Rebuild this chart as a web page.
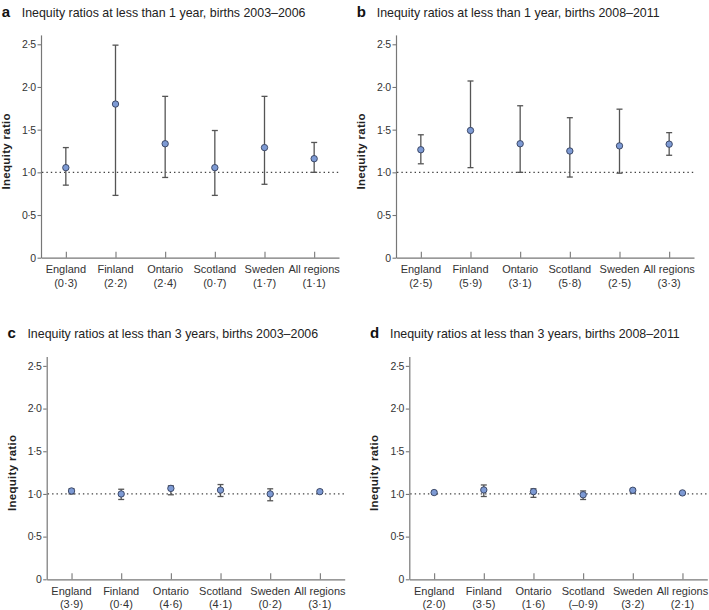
<!DOCTYPE html>
<html>
<head>
<meta charset="utf-8">
<script src="https://cdn.jsdelivr.net/npm/d3@7"></script>
<style>
  body { margin: 0; background: #fff; }
  svg { font-family: 'Liberation Sans', Arial, sans-serif; }
</style>
</head>
<body>
<div id="chart"></div>
<script>
const regions = ['England', 'Finland', 'Ontario', 'Scotland', 'Sweden', 'All regions']
const yTicks = [0, 0.5, 1, 1.5, 2, 2.5]

const panelLetters = ['a', 'b', 'c', 'd']
const panelTitles = [
  'Inequity ratios at less than 1 year, births 2003–2006',
  'Inequity ratios at less than 1 year, births 2008–2011',
  'Inequity ratios at less than 3 years, births 2003–2006',
  'Inequity ratios at less than 3 years, births 2008–2011'
]

// numbers in brackets under each region
const slopeA = ['0·3', '2·2', '2·4', '0·7', '1·7', '1·1']
const slopeB = ['2·5', '5·9', '3·1', '5·8', '2·5', '3·3']
const slopeC = ['3·9', '0·4', '4·6', '4·1', '0·2', '3·1']
const slopeD = ['2·0', '3·5', '1·6', '–0·9', '3·2', '2·1']

// ratio, lower and upper limits
const ratioA = [1.055, 1.8, 1.335, 1.055, 1.29, 1.16]
const lowerA = [0.85, 0.73, 0.94, 0.73, 0.86, 1.0]
const upperA = [1.29, 2.49, 1.89, 1.49, 1.89, 1.35]

const ratioB = [1.265, 1.49, 1.335, 1.25, 1.31, 1.33]
const lowerB = [1.1, 1.055, 1.0, 0.945, 0.99, 1.2]
const upperB = [1.44, 2.07, 1.78, 1.64, 1.74, 1.465]

const ratioC = [1.035, 1.0, 1.065, 1.045, 1.0, 1.027]
const lowerC = [1.0, 0.935, 0.99, 0.97, 0.92, 1.01]
const upperC = [1.06, 1.055, 1.095, 1.11, 1.06, 1.045]

const ratioD = [1.016, 1.047, 1.027, 0.99, 1.043, 1.012]
const lowerD = [1.0, 0.97, 0.96, 0.935, 1.01, 1.0]
const upperD = [1.03, 1.105, 1.06, 1.035, 1.06, 1.02]

const slopes = [slopeA, slopeB, slopeC, slopeD]
const ratios = [ratioA, ratioB, ratioC, ratioD]
const lowers = [lowerA, lowerB, lowerC, lowerD]
const uppers = [upperA, upperB, upperC, upperD]

// where each panel's axes meet
const origins = [[41, 257.7], [396, 257.7], [46.7, 579.3], [409.3, 579.3]]

const width = 298
const height = 222.8

const svg = d3
  .select('#chart')
  .append('svg')
  .attr('width', 709)
  .attr('height', 610)

const x = d3
  .scalePoint()
  .domain(regions)
  .range([0, width])
  .padding(0.5)

const y = d3
  .scaleLinear()
  .domain([0, 2.61])
  .range([height, 0])

const fmt = d => (d === 0 ? '0' : d.toFixed(1).replace('.', '·'))

panelLetters.forEach((letter, i) => {
  const [ox, oy] = origins[i]
  const g = svg
    .append('g')
    .attr('transform', `translate(${ox},${oy - height})`)

  const points = regions.map((r, j) => ({
    region: r,
    ratio: ratios[i][j],
    lower: lowers[i][j],
    upper: uppers[i][j],
    slope: slopes[i][j]
  }))

  // title
  g.append('text')
    .attr('x', -39.3)
    .attr('y', height - 241)
    .attr('font-size', 15)
    .attr('font-weight', 'bold')
    .attr('fill', '#111')
    .text(letter)

  g.append('text')
    .attr('x', -19.3)
    .attr('y', height - 241)
    .attr('font-size', 12.4)
    .attr('fill', '#222')
    .text(panelTitles[i])

  // y axis
  const yAxis = g
    .append('g')
    .attr('class', 'y-axis')
    .call(
      d3
        .axisLeft(y)
        .tickValues(yTicks)
        .tickSize(3.5)
        .tickSizeOuter(0)
        .tickPadding(2)
        .tickFormat(fmt)
    )
  yAxis.select('.domain').attr('stroke', '#777').attr('stroke-width', 1.2)
  yAxis.selectAll('.tick line').attr('stroke', '#777').attr('stroke-width', 1.1)
  yAxis
    .selectAll('.tick text')
    .attr('font-size', 10.5)
    .attr('letter-spacing', -0.6)
    .attr('fill', '#333')
    .attr('font-family', "'Liberation Sans', Arial, sans-serif")

  g.append('text')
    .attr('transform', `translate(-31,${(height - 10) / 2 + 10}) rotate(-90)`)
    .attr('text-anchor', 'middle')
    .attr('font-size', 11.5)
    .attr('font-weight', 'bold')
    .attr('letter-spacing', 0.3)
    .attr('fill', '#222')
    .text('Inequity ratio')

  // x axis
  const xAxis = g
    .append('g')
    .attr('class', 'x-axis')
    .attr('transform', `translate(0,${height})`)
    .call(
      d3
        .axisBottom(x)
        .tickSizeInner(-6)
        .tickSizeOuter(0)
        .tickFormat('')
    )
  xAxis.select('.domain').attr('stroke', '#777').attr('stroke-width', 1.2)
  xAxis.selectAll('.tick line').attr('stroke', '#777').attr('stroke-width', 1.1)

  const labels = g
    .append('g')
    .selectAll('.region-label')
    .data(points)
    .enter()
    .append('text')
    .attr('text-anchor', 'middle')
    .attr('font-size', 11)
    .attr('fill', '#333')

  labels
    .append('tspan')
    .attr('x', d => x(d.region))
    .attr('y', height + 15.5)
    .text(d => d.region)

  labels
    .append('tspan')
    .attr('x', d => x(d.region))
    .attr('y', height + 29)
    .text(d => `(${d.slope})`)

  // reference line at 1
  g.append('line')
    .attr('x1', 1)
    .attr('x2', width)
    .attr('y1', y(1))
    .attr('y2', y(1))
    .attr('stroke', '#444')
    .attr('stroke-width', 1.3)
    .attr('stroke-dasharray', '1.4,3')

  // error bars
  const bars = g
    .append('g')
    .selectAll('.bar')
    .data(points)
    .enter()
    .append('g')
    .attr('stroke', '#555')
    .attr('stroke-width', 1.3)

  bars
    .append('line')
    .attr('x1', d => x(d.region))
    .attr('x2', d => x(d.region))
    .attr('y1', d => y(d.lower))
    .attr('y2', d => y(d.upper))

  bars
    .append('line')
    .attr('x1', d => x(d.region) - 3)
    .attr('x2', d => x(d.region) + 3)
    .attr('y1', d => y(d.lower))
    .attr('y2', d => y(d.lower))

  bars
    .append('line')
    .attr('x1', d => x(d.region) - 3)
    .attr('x2', d => x(d.region) + 3)
    .attr('y1', d => y(d.upper))
    .attr('y2', d => y(d.upper))

  // points
  g.append('g')
    .selectAll('circle')
    .data(points)
    .enter()
    .append('circle')
    .attr('cx', d => x(d.region))
    .attr('cy', d => y(d.ratio))
    .attr('r', 3.2)
    .attr('fill', '#7d9ad4')
    .attr('stroke', '#34405c')
    .attr('stroke-width', 0.9)
})
</script>
</body>
</html>
